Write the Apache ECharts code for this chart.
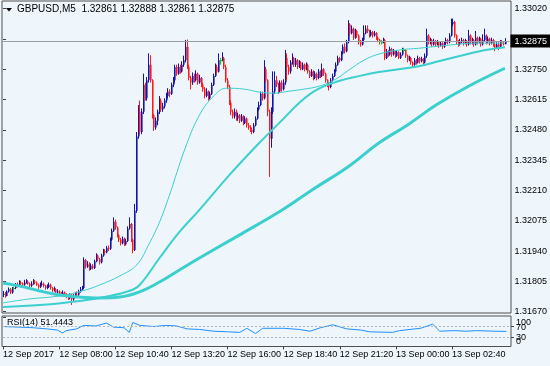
<!DOCTYPE html>
<html><head><meta charset="utf-8">
<script src="https://cdn.jsdelivr.net/npm/echarts@6/dist/echarts.min.js"></script>
<style>html,body{margin:0;padding:0;background:#eef6fc;}#c{width:550px;height:366px;}</style>
</head><body><div id="c"></div>
<script>
// ---- data (prices in points of 0.00001 above 1.30000) ----
const symbolTitle = 'GBPUSD,M5  1.32861 1.32888 1.32861 1.32875';
const rsiTitle = 'RSI(14) 51.4443';
const currentPriceLabel = '1.32875';
const currentPrice = 2875;
const firstOpen = 1745;
const timeLabels = ['12 Sep 2017','12 Sep 08:00','12 Sep 10:40','12 Sep 13:20','12 Sep 16:00','12 Sep 18:40','12 Sep 21:20','13 Sep 00:00','13 Sep 02:40'];
const timeIdx = [0,32,64,96,128,160,192,224,256];
const priceTicks = ['1.31670','1.31805','1.31940','1.32075','1.32210','1.32345','1.32480','1.32615','1.32750','','1.33020'];
const rsiOuterTicks = {0:'0',100:'100'};
const rsiInnerTicks = {30:'30',70:'70'};
const close = [
1750,1740,1760,1770,1755,1775,1775,1790,
1785,1800,1795,1790,1800,1805,1795,1785,
1795,1805,1800,1790,1780,1790,1795,1785,
1775,1780,1790,1775,1765,1770,1755,1760,
1750,1745,1755,1745,1740,1730,1745,1725,
1740,1750,1745,1760,1770,1775,1900,1870,
1880,1860,1875,1865,1895,1920,1905,1890,
1920,1940,1935,1955,1950,1990,2030,2070,
2045,2010,1990,1975,1995,1970,1985,2040,
2060,1990,1945,2120,2450,2560,2470,2560,
2680,2620,2700,2770,2700,2545,2490,2520,
2560,2610,2570,2585,2610,2630,2650,2640,
2680,2700,2760,2730,2760,2740,2770,2790,
2850,2760,2710,2690,2720,2700,2730,2690,
2710,2680,2660,2630,2650,2620,2640,2680,
2720,2760,2740,2790,2790,2800,2760,2700,
2670,2600,2560,2540,2560,2530,2545,2520,
2540,2510,2530,2500,2490,2480,2470,2500,
2530,2570,2590,2640,2620,2750,2700,2560,
2440,2560,2650,2700,2680,2650,2690,2660,
2690,2800,2760,2740,2780,2800,2770,2790,
2760,2780,2750,2770,2750,2770,2740,2720,
2740,2710,2730,2710,2740,2720,2750,2730,
2700,2680,2670,2700,2720,2740,2770,2800,
2790,2820,2850,2830,2870,2950,2910,2930,
2890,2920,2900,2870,2860,2880,2910,2930,
2920,2900,2915,2900,2910,2890,2880,2870,
2870,2880,2800,2830,2815,2840,2815,2830,
2810,2825,2800,2815,2835,2835,2810,2790,
2800,2780,2770,2790,2780,2800,2785,2795,
2780,2810,2900,2870,2880,2860,2875,2860,
2870,2855,2865,2850,2865,2880,2870,2900,
2950,2960,2900,2870,2860,2875,2880,2865,
2875,2860,2900,2870,2880,2860,2890,2870,
2885,2860,2880,2900,2870,2885,2865,2880,
2860,2845,2860,2850,2870,2865,2861,2875];
const high = [
1762,1758,1765,1778,1775,1780,1782,1798,
1800,1810,1808,1800,1812,1815,1810,1800,
1805,1815,1812,1805,1795,1800,1808,1800,
1790,1792,1800,1795,1780,1782,1775,1770,
1765,1758,1765,1760,1752,1748,1752,1750,
1748,1758,1760,1768,1780,1785,1912,1905,
1895,1890,1885,1882,1902,1930,1925,1910,
1928,1950,1948,1962,1965,2000,2040,2090,
2080,2050,2015,1998,2005,2000,1995,2050,
2090,2065,1995,2150,2470,2590,2610,2575,
2730,2690,2715,2820,2812,2705,2550,2535,
2570,2630,2620,2600,2620,2645,2665,2660,
2690,2715,2770,2770,2775,2770,2785,2810,
2880,2882,2770,2720,2735,2730,2745,2735,
2725,2715,2690,2670,2665,2655,2650,2690,
2730,2775,2770,2820,2800,2825,2805,2770,
2710,2680,2610,2570,2575,2570,2555,2550,
2550,2545,2540,2535,2510,2500,2490,2510,
2540,2580,2605,2650,2650,2790,2760,2705,
2570,2580,2740,2740,2720,2690,2700,2700,
2705,2835,2820,2770,2790,2820,2805,2800,
2795,2790,2785,2780,2775,2780,2775,2745,
2750,2745,2740,2735,2750,2745,2775,2755,
2735,2705,2690,2710,2730,2750,2780,2810,
2805,2830,2860,2865,2880,2968,2955,2945,
2935,2930,2925,2905,2880,2890,2945,2945,
2945,2925,2925,2920,2920,2915,2895,2885,
2880,2890,2885,2840,2835,2850,2845,2840,
2835,2835,2830,2825,2845,2845,2840,2815,
2810,2805,2785,2800,2795,2810,2805,2805,
2800,2820,2930,2905,2890,2885,2885,2880,
2880,2875,2875,2870,2875,2890,2885,2910,
2975,2975,2965,2905,2880,2885,2890,2885,
2885,2880,2925,2905,2890,2885,2920,2895,
2895,2890,2905,2930,2905,2895,2890,2890,
2885,2870,2870,2870,2880,2880,2875,2888];
const low = [
1735,1732,1738,1755,1748,1750,1768,1770,
1778,1780,1788,1782,1785,1795,1790,1778,
1780,1790,1792,1785,1772,1775,1785,1778,
1768,1770,1775,1768,1758,1760,1748,1750,
1742,1738,1740,1738,1730,1722,1725,1700,
1718,1735,1738,1740,1755,1765,1770,1862,
1865,1852,1855,1858,1860,1890,1895,1880,
1885,1915,1925,1930,1940,1945,1985,2025,
2035,2000,1980,1965,1970,1962,1965,1980,
2035,1980,1930,1940,2110,2440,2460,2460,
2550,2610,2610,2690,2690,2530,2475,2480,
2500,2550,2560,2560,2575,2600,2620,2625,
2635,2670,2690,2720,2725,2730,2735,2760,
2780,2750,2700,2660,2680,2690,2695,2680,
2685,2670,2650,2620,2625,2610,2615,2635,
2675,2715,2730,2735,2770,2785,2750,2690,
2660,2590,2545,2530,2530,2520,2520,2510,
2515,2500,2505,2490,2480,2470,2460,2465,
2495,2525,2565,2585,2610,2615,2690,2540,
2270,2400,2550,2640,2670,2640,2645,2650,
2655,2680,2700,2725,2730,2770,2760,2760,
2750,2755,2745,2745,2740,2745,2730,2710,
2715,2700,2705,2700,2705,2710,2715,2720,
2690,2670,2655,2665,2695,2715,2735,2765,
2780,2785,2815,2820,2825,2865,2900,2905,
2880,2885,2890,2860,2850,2855,2875,2905,
2910,2890,2895,2890,2895,2880,2870,2860,
2860,2865,2790,2795,2805,2810,2805,2810,
2800,2805,2795,2795,2810,2825,2800,2780,
2785,2770,2760,2765,2770,2775,2775,2780,
2770,2775,2800,2860,2860,2850,2855,2850,
2855,2845,2850,2840,2845,2860,2860,2865,
2895,2940,2890,2860,2850,2855,2865,2855,
2860,2850,2855,2860,2860,2850,2855,2860,
2865,2850,2855,2875,2860,2865,2855,2860,
2850,2830,2840,2835,2845,2855,2855,2861];
// moving averages: [bar index, price points]
const ma50 = [[0,1709],[15.4,1727],[32.5,1740],[45.6,1763],[55.3,1789],[66.7,1829],[76.4,1878],[83.8,1976],[89.5,2069],[95.2,2189],[103.8,2390],[112.3,2545],[120.9,2634],[127.7,2665],[138,2661],[146.5,2648],[155,2643],[163.6,2652],[172.2,2661],[180.7,2674],[189.3,2701],[197.8,2746],[206.4,2790],[214.9,2817],[226.3,2835],[237.7,2843],[249.1,2852],[260.5,2861],[271.9,2866],[287,2866]];
const ma100 = [[0,1691],[21.1,1700],[43.9,1718],[61,1740],[72.4,1763],[78.1,1789],[89.5,1909],[100.9,2025],[112.3,2123],[129.4,2278],[146.5,2421],[159.6,2523],[169.3,2599],[179,2657],[192.1,2697],[203.5,2719],[214.9,2737],[226.3,2750],[237.7,2763],[249.1,2785],[260.5,2807],[271.9,2829],[287,2847]];
const ma200 = [[0,1798],[9.7,1784],[21.1,1762],[32.5,1744],[43.9,1735],[55.3,1731],[66.7,1735],[78.1,1758],[89.5,1802],[100.9,1856],[112.3,1909],[135.1,2011],[159.6,2123],[176.7,2212],[197.8,2318],[214.9,2421],[232,2505],[247.4,2589],[266.2,2674],[287,2754]];
const rsi = [[0,68],[9,66],[17,64],[25,60],[31,56],[34,46],[36,54],[42,60],[46,72],[53,70],[59,80],[63,66],[69,64],[72,48],[74,82],[78,72],[86,68],[93,72],[99,70],[105,60],[112,58],[120,52],[128,50],[135,48],[139,62],[144,44],[148,62],[160,62],[169,58],[175,52],[181,64],[188,74],[196,60],[204,56],[209,50],[222,48],[226,54],[238,62],[245,76],[249,52],[257,54],[264,52],[270,54],[280,52],[287,51.4]];

// ---- build ----
const base = 1670; // 1.31670 = bottom tick
const candles = close.map((c, i) => {
  const o = i === 0 ? firstOpen : close[i - 1];
  return [i, o - base, c - base, low[i] - base, high[i] - base];
});
const shift = arr => arr.map(p => [p[0], p[1] - base]);

function renderCandle(params, api) {
  const i = api.value(0), o = api.value(1), c = api.value(2), l = api.value(3), h = api.value(4);
  const pO = api.coord([i, o]), pC = api.coord([i, c]);
  const pL = api.coord([i, Math.min(l, o, c)]), pH = api.coord([i, Math.max(h, o, c)]);
  const doji = c === o, up = c > o;
  const wick = doji ? '#00d000' : (up ? '#1414a8' : '#ff1a1a');
  const body = doji ? '#00d000' : (up ? '#6e6ec8' : '#ff7676');
  const x = Math.round(pO[0]);
  const top = Math.min(pO[1], pC[1]), bot = Math.max(pO[1], pC[1]);
  return {type: 'group', children: [
    {type: 'rect', shape: {x: x, y: top, width: 2, height: Math.max(1, bot - top)}, style: {fill: body}},
    {type: 'line', shape: {x1: x + 0.5, y1: pH[1], x2: x + 0.5, y2: pL[1]}, style: {stroke: wick, lineWidth: 1}}
  ]};
}

const FONT = 'Liberation Sans';
const lbl = {color: '#000', fontFamily: FONT};
const rsiAxis = (ticks, rich) => ({gridIndex: 3, type: 'value', position: 'right', min: 0, max: 100, interval: 10,
  axisLine: {show: false}, splitLine: {show: false},
  axisTick: {show: true, length: 3, lineStyle: {color: '#404040'}, customValues: Object.keys(ticks).map(Number)},
  axisLabel: Object.assign({margin: 5, fontSize: 9, customValues: Object.keys(ticks).map(Number),
    showMinLabel: true, showMaxLabel: true, hideOverlap: false,
    formatter: v => { const k = Math.round(v); const t = ticks[k]; return t === undefined ? '' : '{r' + k + '|' + t + '}'; },
    rich: rich}, lbl)});
const chart = echarts.init(document.getElementById('c'), null, {renderer: 'canvas'});
chart.setOption({
  animation: false,
  backgroundColor: '#eef6fc',
  textStyle: {fontFamily: FONT},
  grid: [
    {left: 2, top: 1, width: 509, height: 312, show: true, borderColor: '#505050', borderWidth: 1, backgroundColor: '#eef6fc'},
    {left: 3, top: 8.5, width: 508, height: 303.2},
    {left: 2, top: 316, width: 509, height: 30.5, show: true, borderColor: '#505050', borderWidth: 1, backgroundColor: '#eef6fc'},
    {left: 3, top: 317.2, width: 508, height: 29.2}
  ],
  xAxis: [
    {gridIndex: 0, type: 'value', show: false, min: 0, max: 1},
    {gridIndex: 1, type: 'value', show: false, min: 0, max: 289.6},
    {gridIndex: 2, type: 'value', show: false, min: 0, max: 1},
    {gridIndex: 3, type: 'value', min: 0, max: 289.6, interval: 32,
     axisLine: {show: false}, splitLine: {show: false},
     axisTick: {show: true, length: 3, lineStyle: {color: '#404040'}, customValues: timeIdx},
     axisLabel: Object.assign({align: 'left', margin: 4, fontSize: 9, customValues: timeIdx,
       showMinLabel: true, showMaxLabel: true, hideOverlap: false,
       formatter: v => { const k = timeIdx.indexOf(Math.round(v)); return k >= 0 ? timeLabels[k] : ''; }}, lbl)}
  ],
  yAxis: [
    {gridIndex: 0, type: 'value', show: false, min: 0, max: 1},
    {gridIndex: 1, type: 'value', position: 'right', min: 0, max: 1350, interval: 135,
     axisLine: {show: false}, splitLine: {show: false},
     axisTick: {show: true, length: 3, lineStyle: {color: '#404040'}},
     axisLabel: Object.assign({margin: 5, fontSize: 9, showMinLabel: true, showMaxLabel: true,
       formatter: v => priceTicks[Math.round(v / 135)] || ''}, lbl)},
    {gridIndex: 2, type: 'value', show: false, min: 0, max: 1},
    rsiAxis(rsiOuterTicks, {r100: {padding: [10, 0, 0, 0], fontSize: 9}, r0: {padding: [0, 0, 9, 0], fontSize: 9}}),
    rsiAxis(rsiInnerTicks, {r70: {padding: [4, 0, 0, 0], fontSize: 9}, r30: {fontSize: 9}})
  ],
  series: [
    {type: 'custom', xAxisIndex: 1, yAxisIndex: 1, renderItem: renderCandle, data: candles,
     encode: {x: 0, y: [1, 2, 3, 4]}, clip: false, z: 3},
    {type: 'line', xAxisIndex: 1, yAxisIndex: 1, data: shift(ma200), symbol: 'none', smooth: 0.4,
     lineStyle: {color: '#3ccfcf', width: 3}, z: 4},
    {type: 'line', xAxisIndex: 1, yAxisIndex: 1, data: shift(ma100), symbol: 'none', smooth: 0.4,
     lineStyle: {color: '#3ccfcf', width: 2}, z: 4},
    {type: 'line', xAxisIndex: 1, yAxisIndex: 1, data: shift(ma50), symbol: 'none', smooth: 0.4,
     lineStyle: {color: '#3ccfcf', width: 1}, z: 4,
     markLine: {silent: true, symbol: 'none', animation: false,
       lineStyle: {color: '#9aa0aa', width: 1, type: 'solid'},
       label: {show: true, position: 'end', distance: 1, formatter: () => currentPriceLabel,
         backgroundColor: '#000', color: '#fff', padding: [2, 4, 2, 4], fontSize: 9, fontFamily: FONT},
       data: [{yAxis: currentPrice - base}]}},
    {type: 'line', xAxisIndex: 3, yAxisIndex: 3, data: rsi, symbol: 'none',
     lineStyle: {color: '#1e90ff', width: 1}, z: 4,
     markLine: {silent: true, symbol: 'none', animation: false, label: {show: false},
       lineStyle: {color: '#b8b8b8', width: 1, type: [2, 2]},
       data: [{yAxis: 70}, {yAxis: 30}]}}
  ],
  graphic: [
    {type: 'polygon', shape: {points: [[6, 8], [12, 8], [9, 11.5]]}, style: {fill: '#000'}},
    {type: 'text', left: 17, top: 4, style: {text: symbolTitle, font: '10px "Liberation Sans"', fill: '#000'}},
    {type: 'text', left: 7, top: 318, style: {text: rsiTitle, font: '9px "Liberation Sans"', fill: '#000'}}
  ]
});
</script></body></html>
